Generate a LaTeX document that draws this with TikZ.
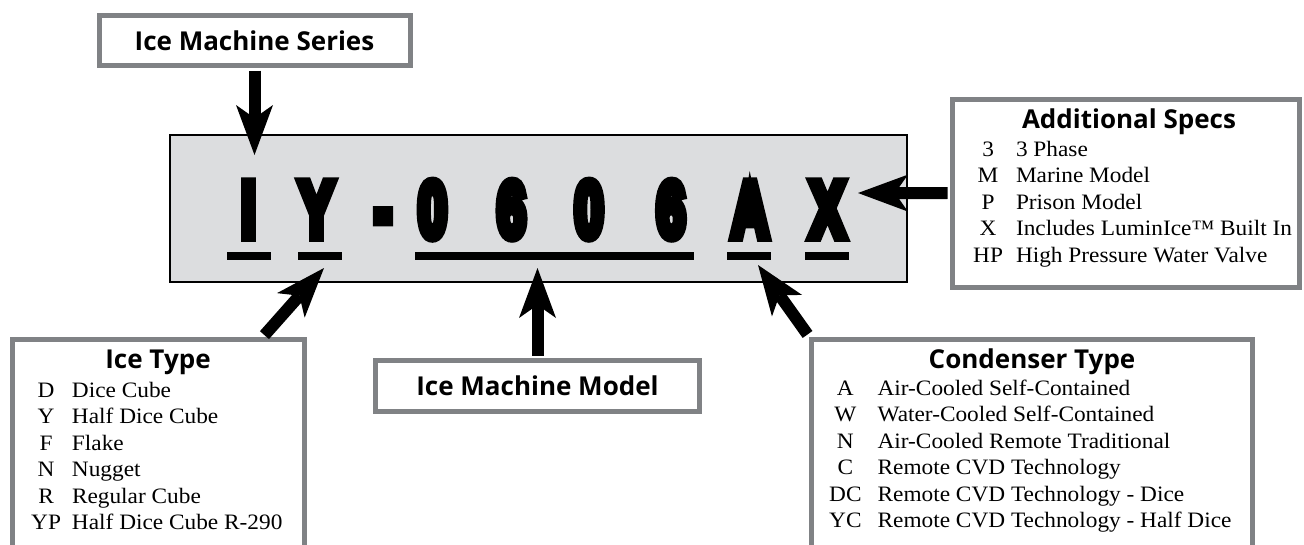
\documentclass[tikz,border=0pt]{standalone}
\usepackage{fontspec}
\usepackage{graphicx}
\usetikzlibrary{arrows.meta}
\setmainfont[FakeStretch=1.06]{Liberation Serif}
\newfontfamily\headfamily{Open Sans}
\newfontfamily\platefamily[FakeBold=14]{Liberation Sans Bold}
\definecolor{framegray}{RGB}{128,130,133}
\definecolor{platefill}{RGB}{220,221,223}
\newcommand{\headfont}{\headfamily\bfseries\fontsize{26}{30}\selectfont}
\newcommand{\listfont}{\fontsize{22}{26.5}\selectfont}
\newcommand{\platechar}[1]{\scalebox{0.66}[1]{\platefamily\fontsize{78}{78}\selectfont #1}}
\tikzset{
  keybox/.style={draw=framegray, line width=5pt, fill=white},
  underbar/.style={line width=8pt},
  pointer/.style={line width=12pt, shorten <=2.5pt,
    -{Stealth[length=50pt, width=37pt, inset=13pt, line width=0pt]}},
  listtext/.style={anchor=base west, inner sep=0pt, font=\listfont}
}
\begin{document}
\begin{tikzpicture}[x=1pt,y=-1pt]
\useasboundingbox (0,0) rectangle (1304,544);
\node (plate) [draw, fill=platefill, line width=1.5pt, minimum width=737pt, minimum height=147pt] at (538.5,208.5) {};
\foreach \ch/\xpos [count=\k] in {I/248.5, Y/316.5, -/383, 0/432.5, 6/511.5, 0/589, 6/671, A/750, X/827.5}
  \node (char\k) [anchor=base, inner sep=0pt] at (\xpos,236.5) {\platechar{\ch}};
\draw[underbar] (227,256) -- (271,256);
\draw[underbar] (298,256) -- (342,256);
\draw[underbar] (415,256) -- (694,256);
\draw[underbar] (727,256) -- (771,256);
\draw[underbar] (805,256) -- (849,256);
\coordinate (tipI) at (254.5,155);
\coordinate (tipY) at (324,268);
\coordinate (tipM) at (537.5,268);
\coordinate (tipA) at (758,265);
\coordinate (tipX) at (858,193);
\node (seriesbox) [keybox, minimum width=311pt, minimum height=50pt, font=\headfont] at (254.5,40.5) {Ice Machine Series};
\node (modelbox) [keybox, minimum width=324pt, minimum height=51pt, font=\headfont] at (537.5,386) {Ice Machine Model};
\node (typebox) [keybox, minimum width=292pt, minimum height=231pt] at (158.5,455) {};
\node (condbox) [keybox, minimum width=441pt, minimum height=231pt] at (1032,454.5) {};
\node (specbox) [keybox, minimum width=347pt, minimum height=188pt] at (1126,193.5) {};
\node (typehead) [anchor=base, font=\headfont] at (158,368) {Ice Type};
\node (condhead) [anchor=base, font=\headfont] at (1032,368) {Condenser Type};
\node (spechead) [anchor=base, font=\headfont] at (1129,128) {Additional Specs};
\node (typelist) [listtext] at (31,397) {\begin{tabular}[t]{@{}c@{\hspace{11pt}}l@{}}
  D & Dice Cube\\ Y & Half Dice Cube\\ F & Flake\\ N & Nugget\\ R & Regular Cube\\ YP & Half Dice Cube R-290
\end{tabular}};
\node (condlist) [listtext] at (829,395) {\begin{tabular}[t]{@{}c@{\hspace{16pt}}l@{}}
  A & Air-Cooled Self-Contained\\ W & Water-Cooled Self-Contained\\ N & Air-Cooled Remote Traditional\\
  C & Remote CVD Technology\\ DC & Remote CVD Technology - Dice\\ YC & Remote CVD Technology - Half Dice
\end{tabular}};
\node (speclist) [listtext] at (973,156) {\begin{tabular}[t]{@{}c@{\hspace{13pt}}l@{}}
  3 & 3 Phase\\ M & Marine Model\\ P & Prison Model\\ X & Includes LuminIce™ Built In\\ HP & High Pressure Water Valve
\end{tabular}};
\draw[pointer] (seriesbox) -- (tipI);
\draw[pointer] (typebox) -- (tipY);
\draw[pointer] (modelbox) -- (tipM);
\draw[pointer] (condbox.north west) -- (tipA);
\draw[pointer] (specbox) -- (tipX);
\end{tikzpicture}
\end{document}
